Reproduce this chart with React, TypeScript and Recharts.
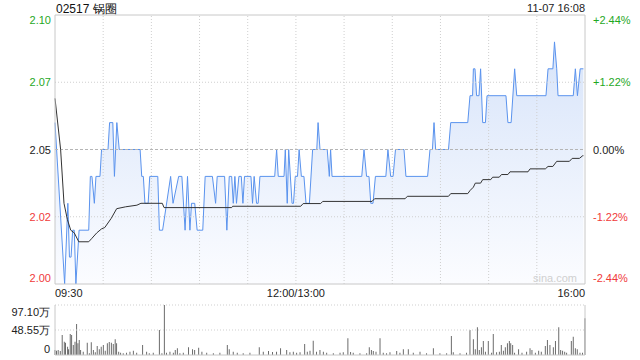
import { ComposedChart, Area, Line, Bar, XAxis, YAxis, ReferenceLine } from 'recharts'

const prevClose = 2.05

// minutes since 09:30 (lunch break removed), last price at each turn of the line
const priceTimes = [
  0, 1, 6, 8, 9, 10, 11, 12, 13, 15, 21, 22, 23, 24.5, 25.5, 28, 29, 33, 34, 36,
  37, 38.5, 40, 53, 54, 55, 56, 58, 59, 64, 65, 67, 72, 73.5, 77, 79, 81, 82.5, 84, 85,
  87, 88.5, 92, 93.5, 98, 100, 101, 105.6, 107, 108.5, 110, 111, 112, 113, 114.5, 116, 117, 118, 122, 123,
  124, 125.5, 126.5, 127.6, 136.8, 138, 139, 142.6, 143.4, 144.6, 145.5, 147.6, 148.5, 149.6, 151, 152, 153.4, 155, 156.3, 158.4,
  160.4, 163, 163.8, 165, 169.5, 170.8, 171.6, 172.5, 191, 192.4, 194, 195.5, 196.6, 198, 199.5, 206, 207.3, 209, 210.5, 212,
  217.3, 218.5, 232, 233.5, 235, 236, 237, 245, 246.4, 257, 258.4, 260, 260.5, 261.5, 262.5, 264, 265, 266.3, 268, 269,
  280.8, 282, 284, 286.2, 287.5, 305.7, 307, 310, 311, 312.4, 313.2, 322.7, 324, 325.3, 327, 329
]
const prices = [
  2.06, 2.05, 2.0, 2.03, 2.01, 2.01, 2.02, 2.02, 2.0, 2.02, 2.02, 2.04, 2.04, 2.03, 2.04, 2.04, 2.05, 2.05, 2.06, 2.06,
  2.04, 2.06, 2.05, 2.05, 2.04, 2.04, 2.03, 2.03, 2.04, 2.04, 2.02, 2.02, 2.04, 2.03, 2.04, 2.04, 2.02, 2.04, 2.02, 2.03,
  2.03, 2.02, 2.02, 2.04, 2.04, 2.03, 2.04, 2.04, 2.02, 2.04, 2.04, 2.03, 2.04, 2.03, 2.04, 2.04, 2.03, 2.04, 2.04, 2.03,
  2.04, 2.03, 2.03, 2.04, 2.04, 2.05, 2.04, 2.04, 2.05, 2.03, 2.05, 2.03, 2.03, 2.04, 2.04, 2.05, 2.04, 2.04, 2.03, 2.03,
  2.05, 2.05, 2.06, 2.05, 2.05, 2.04, 2.05, 2.04, 2.04, 2.05, 2.04, 2.04, 2.03, 2.03, 2.04, 2.04, 2.05, 2.04, 2.04, 2.05,
  2.05, 2.04, 2.04, 2.05, 2.05, 2.06, 2.05, 2.05, 2.06, 2.06, 2.07, 2.07, 2.08, 2.08, 2.07, 2.07, 2.08, 2.06, 2.06, 2.07,
  2.07, 2.06, 2.06, 2.08, 2.07, 2.07, 2.08, 2.08, 2.09, 2.08, 2.07, 2.07, 2.08, 2.07, 2.08, 2.08
]

const avgTimes = [
  0, 3.5, 5.6, 7.7, 9.8, 12, 14.8, 21, 23, 26, 29, 31, 35, 38.4, 44, 51, 53.5, 66.8, 67.9, 110,
  110.6, 153, 154.5, 165.4, 166.7, 197.4, 199, 218, 219.4, 245, 246.4, 257, 258.5, 260.5, 261.7, 265, 266.3, 271.3, 272.5, 276.6,
  278, 282, 283.3, 294.5, 295.8, 305.3, 307, 310, 312.4, 320.3, 322, 326.5, 328.6, 329
]
const avgPrices = [
  2.069, 2.05, 2.03, 2.024, 2.02, 2.019, 2.0157, 2.0157, 2.017, 2.019, 2.0205, 2.021, 2.0244, 2.028, 2.0287, 2.0293, 2.03, 2.03, 2.0284, 2.0284,
  2.0289, 2.0289, 2.0299, 2.0299, 2.0307, 2.0307, 2.0317, 2.0317, 2.0326, 2.0326, 2.0336, 2.0336, 2.0348, 2.036, 2.0375, 2.0375, 2.0388, 2.0388, 2.0397, 2.0397,
  2.0407, 2.0407, 2.0417, 2.0417, 2.0428, 2.0428, 2.0437, 2.0437, 2.0456, 2.0456, 2.0467, 2.0467, 2.0477, 2.0477
]

// volume, in 万 shares
const volTimes = [
  0, 1, 2, 3.3, 4.5, 5.8, 6.6, 7.9, 8.5, 9.5, 10.4, 11.4, 12.5, 13.5, 14.3, 15.1, 16, 17.6, 20.1, 21.4,
  22.6, 23.9, 25.1, 26.3, 27.6, 28.8, 30.1, 31.3, 32.6, 33.8, 35.1, 36.3, 37.5, 38.4, 39.7, 40.9, 42.5, 44.6, 46.7, 48.8,
  50.9, 54.6, 57.1, 58.7, 61.2, 65, 66.6, 68.1, 69.5, 71.6, 73.7, 74.9, 76.2, 77.8, 79.9, 83.2, 85.7, 87, 89.5, 91.5,
  94.5, 98.6, 102.7, 107.3, 108.5, 111, 113.5, 117.2, 121.4, 127.2, 129.7, 133, 135.5, 138, 140.5, 144.3, 146.3, 148.4, 150.5, 152.6,
  155.5, 157.1, 158.8, 160.8, 162.9,
  165, 167.1, 169.2, 173.3, 177.5, 179.5, 182.4, 184.1, 185.7, 189.9, 194.1, 195.7, 197, 198.2, 199.9, 202.4, 204.4, 206.5, 208.6, 212.8,
  214.8, 216.9, 220, 223.1, 227.3, 231.4, 235.6, 239.7, 243.9, 246.8, 248, 252.2, 256.3, 258.4, 260.5, 261.7, 263, 264.2, 265.5, 266.7,
  268, 269.8, 271.9, 272.9, 275, 276.7, 277.9, 279.2, 280.4, 281.7, 282.9, 283.8, 285, 286.2, 288.7, 290.8, 293.7, 295.8, 297, 299.1,
  301.2, 302.8, 305.3, 306.6, 308.2, 310.3, 311.6, 313.7, 314.9, 316.1, 317.4, 318.6, 321.5, 322.7, 324, 325.2, 326.9, 328.5, 330
]
const volumes = [
  9.7, 8.4, 9.7, 7.8, 38.8, 25.9, 23.9, 16.2, 11, 40.8, 38.8, 19.4, 25.9, 60.2, 22.6, 29.1, 9.7, 6.5, 23.9, 3.2,
  24.6, 9.7, 5.2, 17.5, 11, 16.2, 19.4, 8.4, 22.6, 25.2, 23.9, 21.4, 30.4, 22.6, 6.5, 4.5, 3.2, 4.5, 6.5, 8.4,
  4.5, 19.4, 6.5, 3.2, 4.5, 48.5, 3.2, 97.1, 4.5, 6.5, 4.5, 9.7, 12.9, 3.2, 4.5, 14.9, 11, 9.7, 14.2, 6.5,
  4.5, 3.2, 4.5, 19.4, 11, 6.5, 4.5, 3.2, 4.5, 14.9, 6.5, 7.8, 5.8, 6.5, 12.9, 9.7, 5.2, 6.5, 4.5, 5.2,
  21.4, 6.5, 8.4, 27.8, 6.5,
  9.7, 6.5, 4.5, 3.2, 4.5, 5.2, 32.4, 5.8, 4.5, 3.2, 3.2, 14.9, 9.7, 7.8, 6.5, 32.4, 4.5, 3.2, 5.2, 7.8,
  4.5, 11, 11, 4.5, 6.5, 3.2, 12.9, 3.2, 3.2, 36.9, 5.2, 3.2, 4.5, 48.5, 30.4, 11, 53.7, 9.7, 14.9, 27.2,
  6.5, 27.2, 4.5, 40.8, 5.2, 6.5, 19.4, 8.4, 14.9, 22.6, 27.2, 22.6, 19.4, 4.5, 11, 4.5, 6.5, 12.9, 9.7, 4.5,
  8.4, 6.5, 17.5, 29.1, 19.4, 14.9, 27.2, 53.7, 9.7, 8.4, 6.5, 4.5, 27.2, 35.6, 12.9, 11, 4.5, 4.5, 71.2
]

const priceTicks = [2.0, 2.025, 2.05, 2.075, 2.1]
const priceTickLabels = ['2.00', '2.02', '2.05', '2.07', '2.10']
const pctTickLabels = ['-2.44%', '-1.22%', '0.00%', '+1.22%', '+2.44%']
const timeTicks = [0, 150, 330]
const timeTickLabels = ['09:30', '12:00/13:00', '16:00']
const gridMinutes = [30, 60, 90, 120, 150, 180, 210, 240, 270, 300]
const volTicks = [0, 48.55, 97.1]
const volTickLabels = ['0', '48.55万', '97.10万']

const priceData = priceTimes.map((m, i) => ({ m, p: prices[i] }))
const avgData = avgTimes.map((m, i) => ({ m, a: avgPrices[i] }))
const volData = volTimes.map((m, i) => ({ m, v: volumes[i] }))

const FONT = '"Liberation Sans", Arial, sans-serif'
const GREEN = '#1fa81f'
const RED = '#f03a3a'
const GRID = '#cfcfcf'
const BORDER = '#c8c8c8'

const colorOf = (v: number) => (v > prevClose + 1e-6 ? GREEN : v < prevClose - 1e-6 ? RED : '#222')

const PriceTick = (props: any) => {
  const { x, y, index, payload, right } = props
  const last = priceTicks.length - 1
  const dy = index === last ? 5 : index === 0 ? -6 : 0
  return (
    <text x={x} y={y + dy} textAnchor={right ? 'start' : 'end'} dominantBaseline="central"
      fontSize={11} fontFamily={FONT} fill={colorOf(payload.value)}>
      {right ? pctTickLabels[index] : priceTickLabels[index]}
    </text>
  )
}

const TimeTick = (props: any) => {
  const { x, y, index } = props
  const anchor = index === 0 ? 'start' : index === timeTicks.length - 1 ? 'end' : 'middle'
  return (
    <text x={x} y={y + 9} textAnchor={anchor} dominantBaseline="central" fontSize={11} fontFamily={FONT} fill="#222">
      {timeTickLabels[index]}
    </text>
  )
}

const VolTick = (props: any) => {
  const { x, y, index } = props
  const dy = index === volTicks.length - 1 ? 7 : index === 0 ? -6 : 0
  return (
    <text x={x} y={y + dy} textAnchor="end" dominantBaseline="central" fontSize={11} fontFamily={FONT} fill="#222">
      {volTickLabels[index]}
    </text>
  )
}

const App = () => {
  return (
    <div style={{ position: 'absolute', left: 0, top: 0, width: 640, height: 360, background: '#fff', fontFamily: FONT }}>
      <div style={{ position: 'absolute', left: 56, top: 1, fontSize: 12, color: '#111' }}>02517 锅圈</div>
      <div style={{ position: 'absolute', right: 55, top: 2, fontSize: 11, color: '#222' }}>11-07 16:08</div>

      <div style={{ position: 'absolute', left: 0, top: 0 }}>
        <ComposedChart width={640} height={300} data={priceData} margin={{ top: 15, right: 0, bottom: 0, left: 0 }}>
          <defs>
            <linearGradient id="priceFill" x1="0" y1="0" x2="0" y2="1">
              <stop offset="0%" stopColor="#d3e1f9" />
              <stop offset="100%" stopColor="#fbfcff" />
            </linearGradient>
          </defs>
          <XAxis type="number" dataKey="m" domain={[0, 330]} ticks={timeTicks} interval={0}
            height={16} tickSize={0} tickMargin={0} tickLine={false}
            axisLine={{ stroke: BORDER }} tick={(p: any) => <TimeTick {...p} />} />
          <YAxis yAxisId="l" type="number" domain={[2.0, 2.1]} ticks={priceTicks} interval={0}
            width={55} tickSize={0} tickMargin={4} tickLine={false}
            axisLine={{ stroke: BORDER }} tick={(p: any) => <PriceTick {...p} />} />
          <YAxis yAxisId="r" orientation="right" type="number" domain={[2.0, 2.1]} ticks={priceTicks} interval={0}
            width={55} tickSize={0} tickMargin={8} tickLine={false}
            axisLine={{ stroke: BORDER }} tick={(p: any) => <PriceTick {...p} right />} />
          <Area yAxisId="l" dataKey="p" type="linear" stroke="#5a93ee" strokeWidth={1}
            fill="url(#priceFill)" fillOpacity={0.9} dot={false} activeDot={false} isAnimationActive={false} />
          <Line yAxisId="r" dataKey="p" type="linear" stroke="none" dot={false} activeDot={false}
            legendType="none" isAnimationActive={false} />
          {gridMinutes.map((g) => (
            <ReferenceLine key={g} yAxisId="l" x={g} stroke={GRID} strokeDasharray="1 2" />
          ))}
          <ReferenceLine yAxisId="l" y={2.075} stroke={GRID} strokeDasharray="1 2" />
          <ReferenceLine yAxisId="l" y={2.025} stroke={GRID} strokeDasharray="1 2" />
          <ReferenceLine yAxisId="l" y={prevClose} stroke="#b5b5b5" strokeDasharray="3 2" />
          <ReferenceLine yAxisId="l" y={2.1} stroke={BORDER} />
          <Line yAxisId="l" data={avgData} dataKey="a" type="linear" stroke="#333" strokeWidth={1}
            dot={false} activeDot={false} isAnimationActive={false} />
        </ComposedChart>
      </div>

      <div style={{ position: 'absolute', left: 533, top: 272, fontSize: 11, color: '#d0d0d0' }}>sina.com</div>

      <div style={{ position: 'absolute', left: 0, top: 290 }}>
        <ComposedChart width={640} height={70} data={volData} margin={{ top: 15, right: 55, bottom: 5, left: 0 }}>
          <XAxis type="number" dataKey="m" domain={[0, 330]} hide />
          <YAxis type="number" domain={[0, 97.1]} ticks={volTicks} interval={0} width={55}
            tickSize={0} tickMargin={5} tickLine={false} axisLine={{ stroke: BORDER }}
            tick={(p: any) => <VolTick {...p} />} />
          <ReferenceLine y={97.1} stroke={GRID} strokeDasharray="1 2" />
          <ReferenceLine y={48.55} stroke={GRID} strokeDasharray="1 2" />
          <ReferenceLine y={0} stroke={BORDER} />
          <ReferenceLine x={330} stroke={BORDER} />
          <Bar dataKey="v" barSize={1} fill="#555" isAnimationActive={false} />
        </ComposedChart>
      </div>
    </div>
  )
}

export default App
